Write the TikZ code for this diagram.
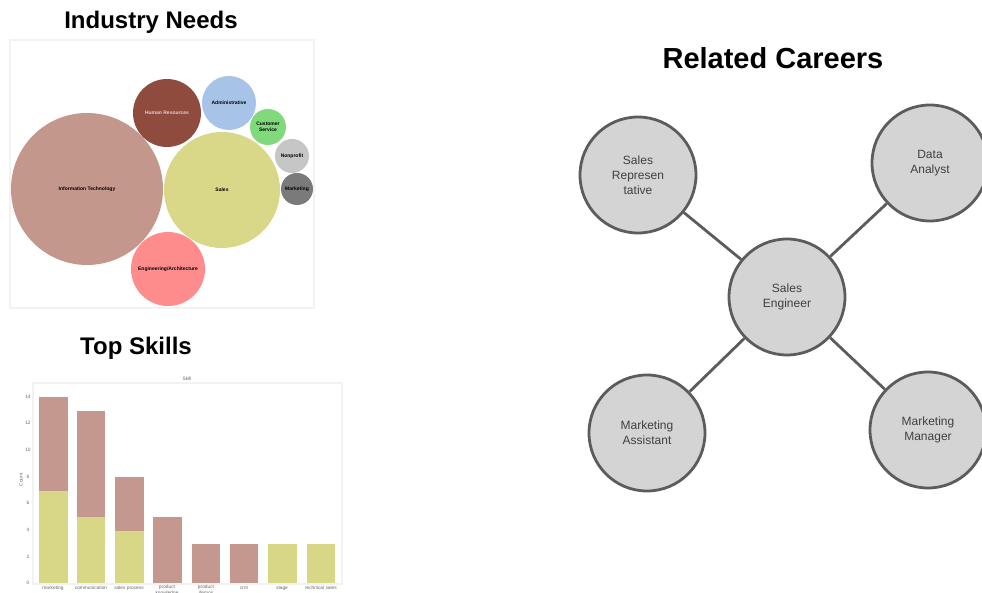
\documentclass[tikz,border=0pt]{standalone}
\usepackage{fontspec}
\setmainfont{Liberation Sans}
\definecolor{careerfill}{HTML}{D4D4D4}
\definecolor{careerline}{HTML}{5C5C5C}
\definecolor{framegray}{HTML}{F2F2F2}
\definecolor{itrose}{HTML}{C4978D}
\definecolor{salesolive}{HTML}{D9D888}
\definecolor{hrbrown}{HTML}{8E4B3E}
\definecolor{adminblue}{HTML}{A8C3E8}
\definecolor{csgreen}{HTML}{80DA7C}
\definecolor{npgray}{HTML}{C6C6C6}
\definecolor{mkgray}{HTML}{7A7A7A}
\definecolor{engred}{HTML}{FF8C8C}
\definecolor{barrose}{HTML}{C4978F}
\definecolor{baryellow}{HTML}{D8D786}
\begin{document}
\begin{tikzpicture}[x=0.5pt,y=-0.5pt]
				\tikzstyle{Career} = [circle, draw=careerline, line width=1.4pt, fill=careerfill, minimum size=58pt, inner sep=0pt, align=center, text=black!75, font=\fontsize{6}{7.5}\selectfont]
				\tikzstyle{Bubble} = [circle, inner sep=0pt, align=center, font=\fontsize{2.5}{3}\selectfont\bfseries]
				\tikzstyle{Title} = [font=\fontsize{12}{14}\selectfont\bfseries]
				\tikzstyle{Tiny} = [inner sep=0pt, text=black!60, align=center, font=\fontsize{2.4}{2.8}\selectfont]
				\useasboundingbox (0,0) rectangle (982,593);
				% titles
				\node (t1) at (151,22) [Title] {Industry Needs};
				\node (t2) at (773,58) [Title, font=\fontsize{14.5}{16}\selectfont\bfseries] {Related Careers};
				\node (t3) at (136,348) [Title] {Top Skills};
				% industry needs
				\draw [framegray, line width=0.6pt] (10,40) rectangle (314,308);
				\node (it) at (87,189) [Bubble, fill=itrose, minimum size=76pt] {Information Technology};
				\node (sa) at (222,190) [Bubble, fill=salesolive, minimum size=58pt] {Sales};
				\node (hr) at (167,113) [Bubble, fill=hrbrown, minimum size=34pt, text=white!85!black] {Human Resources};
				\node (ad) at (229,103) [Bubble, fill=adminblue, minimum size=27pt] {Administrative};
				\node (cs) at (268,127) [Bubble, fill=csgreen, minimum size=18pt] {Customer\\Service};
				\node (np) at (292,156) [Bubble, fill=npgray, minimum size=17pt] {Nonprofit};
				\node (mk) at (297,189) [Bubble, fill=mkgray, minimum size=16pt] {Marketing};
				\node (en) at (168,269) [Bubble, fill=engred, minimum size=37pt] {Engineering/Architecture};
				% top skills
				\draw [framegray, line width=0.6pt] (33,383) rectangle (342,584);
				\node (sk) at (187,379) [Tiny] {Skill};
				\node (cn) at (21,480) [Tiny, rotate=90] {Count};
				\foreach \v/\y in {0/583, 2/557, 4/530, 6/503, 8/477, 10/450, 12/423, 14/397}
					\node (tick\v) at (28,\y) [Tiny] {\v};
				\fill [barrose] (39,397) rectangle (68,491);
				\fill [baryellow] (39,491) rectangle (68,583);
				\fill [barrose] (77,411) rectangle (105,517);
				\fill [baryellow] (77,517) rectangle (105,583);
				\fill [barrose] (115,477) rectangle (144,531);
				\fill [baryellow] (115,531) rectangle (144,583);
				\fill [barrose] (153,517) rectangle (182,583);
				\fill [barrose] (192,544) rectangle (220,583);
				\fill [barrose] (230,544) rectangle (258,583);
				\fill [baryellow] (268,544) rectangle (297,583);
				\fill [baryellow] (307,544) rectangle (335,583);
				\node (b1) at (53,588) [Tiny] {marketing};
				\node (b2) at (91,588) [Tiny] {communication};
				\node (b3) at (129,588) [Tiny] {sales process};
				\node (b4) at (167,590) [Tiny] {product\\knowledge};
				\node (b5) at (206,590) [Tiny] {product\\demos};
				\node (b6) at (244,588) [Tiny] {crm};
				\node (b7) at (282,588) [Tiny] {stage};
				\node (b8) at (321,588) [Tiny] {technical sales};
				% related careers
				\node (se) at (787,297) [Career] {Sales\\Engineer};
				\node (sr) at (638,175) [Career] {Sales\\Represen\\tative};
				\node (da) at (930,163) [Career] {Data\\Analyst};
				\node (ma) at (647,433) [Career] {Marketing\\Assistant};
				\node (mm) at (928,430) [Career] {Marketing\\Manager};
				\draw [careerline, line width=1.4pt] (se) to (sr);
				\draw [careerline, line width=1.4pt] (se) to (da);
				\draw [careerline, line width=1.4pt] (se) to (ma);
				\draw [careerline, line width=1.4pt] (se) to (mm);
			\end{tikzpicture}
\end{document}
